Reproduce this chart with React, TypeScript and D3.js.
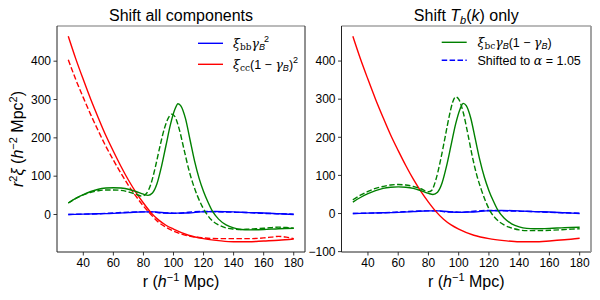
import React from 'react';
import * as d3 from 'd3';

type P = [number, number];

const xTicks = [40, 60, 80, 100, 120, 140, 160, 180];
const yTicks = [-100, 0, 100, 200, 300, 400];

const blueSolid: P[] = [[30,0],[40,1],[50,2],[60,3],[70,5],[80,7],[88,7],[95,4],[100,3],[105,4],[110,4],[118,7],[128,8],[140,7],[150,5],[160,4],[170,2],[180,0]];
const blueDashed: P[] = [[30,0],[40,1],[50,2],[60,4],[70,6],[80,7],[85,7],[92,4],[98,4],[103,3],[110,6],[120,8],[130,7],[140,6],[150,5],[160,3],[170,2],[180,1]];

const redSolidL: P[] = [[30,465],[35,406],[40,352],[45,300],[50,252],[55,206],[60,165],[65,126],[70,90],[75,58],[80,30],[85,5],[90,-14],[95,-28],[100,-38],[110,-54],[120,-63],[130,-68],[140,-71],[150,-71],[160,-69],[170,-67],[180,-64]];
const redDashedL: P[] = [[30,404],[35,352],[40,305],[45,260],[50,218],[55,178],[60,142],[65,108],[70,76],[75,48],[80,22],[85,0],[90,-20],[95,-33],[100,-43],[110,-56],[120,-61],[130,-63],[140,-63],[150,-63],[160,-61],[165,-59],[170,-57],[175,-59],[180,-63]];
const redSolidR: P[] = [[30,465],[35,406],[40,352],[45,300],[50,252],[55,206],[60,165],[65,126],[70,90],[75,58],[80,30],[85,5],[90,-15],[95,-30],[100,-41],[110,-57],[120,-66],[130,-71],[140,-74],[150,-74],[160,-72],[170,-69],[180,-65]];

const greenSolid: P[] = [[30,30],[35,42],[40,52],[45,60],[50,66],[55,69],[60,70],[65,69],[70,66],[75,60],[80,53],[83,50],[86,56],[89,80],[92,125],[95,180],[98,235],[101,275],[103,289],[105,283],[108,250],[111,195],[114,140],[117,95],[120,60],[123,32],[126,8],[130,-12],[135,-27],[140,-35],[145,-39],[150,-40],[160,-39],[170,-37],[180,-36]];
const greenDashedL: P[] = [[30,30],[35,42],[40,51],[45,58],[50,62],[55,64],[60,64],[65,63],[70,59],[75,53],[79,48],[82,55],[85,80],[88,125],[91,178],[94,225],[97,255],[99,262],[101,255],[104,220],[107,170],[110,120],[113,80],[116,48],[119,22],[122,2],[125,-13],[130,-27],[135,-35],[140,-38],[145,-39],[150,-38],[160,-36],[170,-33],[175,-34],[180,-36]];
const greenDashedR: P[] = [[30,36],[35,48],[40,58],[45,66],[50,71],[55,75],[60,76],[65,75],[70,71],[75,65],[80,57],[82,60],[85,90],[88,140],[91,200],[94,260],[96,292],[98,306],[100,300],[103,265],[106,210],[109,150],[112,100],[115,62],[118,30],[121,5],[125,-15],[130,-30],[135,-38],[140,-43],[145,-45],[150,-45],[160,-44],[170,-42],[180,-40]];

const BLUE = '#0000ff';
const RED = '#ff0000';
const GREEN = '#008000';
const DASH = '5.5,2.4';
const SANS = 'Liberation Sans, Arial, Helvetica, sans-serif';
const SERIF = 'DejaVu Serif, serif';

type Series = { data: P[]; color: string; dashed: boolean };

const leftSeries: Series[] = [
  { data: blueSolid, color: BLUE, dashed: false },
  { data: blueDashed, color: BLUE, dashed: true },
  { data: redSolidL, color: RED, dashed: false },
  { data: redDashedL, color: RED, dashed: true },
  { data: greenSolid, color: GREEN, dashed: false },
  { data: greenDashedL, color: GREEN, dashed: true },
];
const rightSeries: Series[] = [
  { data: blueSolid, color: BLUE, dashed: false },
  { data: blueDashed, color: BLUE, dashed: true },
  { data: redSolidR, color: RED, dashed: false },
  { data: greenSolid, color: GREEN, dashed: false },
  { data: greenDashedR, color: GREEN, dashed: true },
];

const TOP = 26;
const BOTTOM = 252;

function Panel({ x0, x1, series, rightEdge }: { x0: number; x1: number; series: Series[]; rightEdge?: boolean }) {
  const xs = d3.scaleLinear().domain([22.5, 187.5]).range([x0, x1]);
  const all = series.flatMap((s) => s.data.map((d) => d[1]));
  const [mn, mx] = d3.extent(all) as [number, number];
  const pad = (mx - mn) * 0.05;
  const ys = d3.scaleLinear().domain([mn - pad, mx + pad]).range([BOTTOM, TOP]);
  const line = d3
    .line<P>()
    .x((d) => xs(d[0]))
    .y((d) => ys(d[1]))
    .curve(d3.curveMonotoneX);
  const yt = yTicks.filter((t) => t >= ys.domain()[0] && t <= ys.domain()[1]);
  const fmt = (v: number) => (v < 0 ? '\u2212' + Math.abs(v) : String(v));
  return (
    <g>
      {series.map((s, i) => (
        <path
          key={i}
          d={line(s.data) || ''}
          fill="none"
          stroke={s.color}
          strokeWidth={1.4}
          strokeDasharray={s.dashed ? DASH : undefined}
        />
      ))}
      <line x1={x0} x2={x1} y1={TOP} y2={TOP} stroke="#777" strokeWidth={1.1} />
      <line x1={x0} x2={x1} y1={BOTTOM} y2={BOTTOM} stroke="#222" strokeWidth={1} />
      <line x1={x0} x2={x0} y1={TOP} y2={BOTTOM} stroke="#222" strokeWidth={1} />
      <line
        x1={x1}
        x2={x1}
        y1={TOP}
        y2={BOTTOM}
        stroke={rightEdge ? '#999' : '#222'}
        strokeWidth={rightEdge ? 1.8 : 1}
      />
      {xTicks.map((t) => (
        <g key={t}>
          <line x1={xs(t)} x2={xs(t)} y1={BOTTOM} y2={BOTTOM + 3.5} stroke="#222" strokeWidth={0.9} />
          <text x={xs(t)} y={BOTTOM + 15} textAnchor="middle" fontSize={12} fontFamily={SANS} fill="#000">
            {t}
          </text>
        </g>
      ))}
      {yt.map((t) => (
        <g key={t}>
          <line x1={x0 - 3.5} x2={x0} y1={ys(t)} y2={ys(t)} stroke="#222" strokeWidth={0.9} />
          <text x={x0 - 6} y={ys(t) + 4.3} textAnchor="end" fontSize={12} fontFamily={SANS} fill="#000">
            {fmt(t)}
          </text>
        </g>
      ))}
      <text x={(x0 + x1) / 2} y={287} textAnchor="middle" fontSize={16} fontFamily={SANS} fill="#000">
        r (<tspan fontStyle="italic">h</tspan>
        <tspan fontSize={11} dy={-6}>{'\u22121'}</tspan>
        <tspan dy={6}> Mpc)</tspan>
      </text>
    </g>
  );
}

function LegendLine({ x, y, color, dashed }: { x: number; y: number; color: string; dashed?: boolean }) {
  return <line x1={x} x2={x + 25} y1={y} y2={y} stroke={color} strokeWidth={1.4} strokeDasharray={dashed ? DASH : undefined} />;
}

export default function App() {
  const LX0 = 57, LX1 = 305, RX0 = 341.5, RX1 = 591;
  const fs = 12.5;
  const sub = 9;
  return (
    <svg width={600} height={300} style={{ position: 'absolute', left: 0, top: 0, background: '#fff' }}>
      <rect width={600} height={300} fill="#fff" />
      <Panel x0={LX0} x1={LX1} series={leftSeries} />
      <Panel x0={RX0} x1={RX1} series={rightSeries} rightEdge />

      <text x={(LX0 + LX1) / 2} y={21} textAnchor="middle" fontSize={16} fontFamily={SANS} fill="#000">
        Shift all components
      </text>
      <text x={(RX0 + RX1) / 2} y={21} textAnchor="middle" fontSize={16} fontFamily={SANS} fill="#000">
        Shift <tspan fontStyle="italic">T</tspan>
        <tspan fontStyle="italic" fontSize={11} dy={3}>b</tspan>
        <tspan dy={-3}>(</tspan>
        <tspan fontStyle="italic">k</tspan>) only
      </text>

      <text transform="translate(23,139) rotate(-90)" textAnchor="middle" fontSize={16} fontFamily={SANS} fill="#000">
        <tspan fontStyle="italic">r</tspan>
        <tspan fontSize={11} dy={-6}>2</tspan>
        <tspan dy={6} fontStyle="italic">{'\u03be'}</tspan> (<tspan fontStyle="italic">h</tspan>
        <tspan fontSize={11} dy={-6}>{'\u22122'}</tspan>
        <tspan dy={6}> Mpc</tspan>
        <tspan fontSize={11} dy={-6}>2</tspan>
        <tspan dy={6}>)</tspan>
      </text>

      {/* left legend */}
      <LegendLine x={198} y={43.3} color={BLUE} />
      <text x={233} y={47.5} fontSize={fs} fontFamily={SANS} fill="#000">
        <tspan fontFamily={SERIF} fontStyle="italic">{'\u03be'}</tspan>
        <tspan fontFamily={SERIF} fontSize={sub} dy={2.5}>bb</tspan>
        <tspan fontFamily={SERIF} fontStyle="italic" dy={-2.5}>{'\u03b3'}</tspan>
        <tspan fontStyle="italic" fontSize={sub} dy={2.5}>B</tspan>
        <tspan fontSize={sub} dx={-1} dy={-8}>2</tspan>
      </text>
      <LegendLine x={198} y={64.3} color={RED} />
      <text x={233} y={68.5} fontSize={fs} fontFamily={SANS} fill="#000">
        <tspan fontFamily={SERIF} fontStyle="italic">{'\u03be'}</tspan>
        <tspan fontFamily={SERIF} fontSize={sub} dy={2.5}>cc</tspan>
        <tspan dy={-2.5}>(1 {'\u2212'} </tspan>
        <tspan fontFamily={SERIF} fontStyle="italic">{'\u03b3'}</tspan>
        <tspan fontStyle="italic" fontSize={sub} dy={2.5}>B</tspan>
        <tspan dy={-2.5}>)</tspan>
        <tspan fontSize={sub} dy={-5.5}>2</tspan>
      </text>

      {/* right legend */}
      <LegendLine x={441.7} y={42.3} color={GREEN} />
      <text x={477.5} y={46.5} fontSize={fs} fontFamily={SANS} fill="#000">
        <tspan fontFamily={SERIF} fontStyle="italic">{'\u03be'}</tspan>
        <tspan fontFamily={SERIF} fontSize={sub} dy={2.5}>bc</tspan>
        <tspan fontFamily={SERIF} fontStyle="italic" dy={-2.5}>{'\u03b3'}</tspan>
        <tspan fontStyle="italic" fontSize={sub} dy={2.5}>B</tspan>
        <tspan dy={-2.5}>(1 {'\u2212'} </tspan>
        <tspan fontFamily={SERIF} fontStyle="italic">{'\u03b3'}</tspan>
        <tspan fontStyle="italic" fontSize={sub} dy={2.5}>B</tspan>
        <tspan dy={-2.5}>)</tspan>
      </text>
      <LegendLine x={441.7} y={60.3} color={BLUE} dashed />
      <text x={477.5} y={64.5} fontSize={fs} fontFamily={SANS} fill="#000">
        Shifted to <tspan fontFamily={SERIF} fontStyle="italic">{'\u03b1'}</tspan> = 1.05
      </text>
    </svg>
  );
}
